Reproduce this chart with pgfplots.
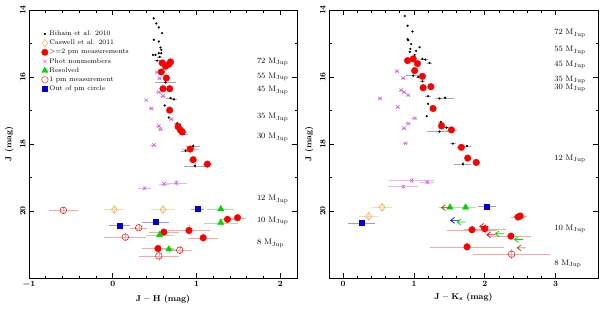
\documentclass[border=0pt]{standalone}
\usepackage{pgfplots}
\pgfplotsset{compat=1.18}
\definecolor{myred}{RGB}{250,0,0}
\definecolor{mymag}{RGB}{215,70,225}
\definecolor{mygreen}{RGB}{0,215,0}
\definecolor{myblue}{RGB}{0,0,215}
\definecolor{myorange}{RGB}{250,160,60}
\definecolor{mybrown}{RGB}{150,80,20}
\pgfdeclareplotmark{larrow}{%
  \pgfpathmoveto{\pgfpoint{1.1\pgfplotmarksize}{0pt}}%
  \pgfpathlineto{\pgfpoint{-1.1\pgfplotmarksize}{0pt}}%
  \pgfpathmoveto{\pgfpoint{-0.1\pgfplotmarksize}{0.75\pgfplotmarksize}}%
  \pgfpathlineto{\pgfpoint{-1.1\pgfplotmarksize}{0pt}}%
  \pgfpathlineto{\pgfpoint{-0.1\pgfplotmarksize}{-0.75\pgfplotmarksize}}%
  \pgfusepathqstroke}
\tikzset{mass/.style={anchor=west, font=\fontsize{8}{9}\selectfont, inner sep=0pt}}
\pgfplotsset{
  cmd/.style={
    scale only axis, height=268pt,
    y dir=reverse, ymin=14, ymax=22,
    ytick={14,16,18,20}, minor y tick num=1,
    minor x tick num=4,
    tick align=inside, major tick length=5pt, minor tick length=2.5pt,
    axis line style={line width=0.8pt}, every tick/.style={line width=0.6pt,black},
    ticklabel style={font=\fontsize{8.5}{9}\selectfont\boldmath},
    yticklabel style={rotate=90, anchor=south},
    label style={font=\fontsize{8.5}{9}\selectfont\bfseries},
    ylabel={J (mag)},
    clip=false,
    error bars/error mark=none,
  },
  bl/.style={only marks, mark=*, mark size=0.9pt, black, mark options={solid},
    error bars/.cd, x dir=both, x explicit, y dir=both, y explicit,
    error bar style={solid, gray!70, line width=0.4pt}},
  rf/.style={only marks, mark=*, mark size=3.3pt, myred, mark options={solid, fill=myred},
    error bars/.cd, x dir=both, x explicit, y dir=both, y explicit,
    error bar style={solid, myred!35, line width=0.4pt}},
  mg/.style={only marks, mark=x, mark size=2.5pt, mymag, mark options={solid, line width=0.5pt},
    error bars/.cd, x dir=both, x explicit, y dir=both, y explicit,
    error bar style={solid, mymag!40, line width=0.4pt}},
  gt/.style={only marks, mark=triangle*, mark size=3.6pt, mygreen, mark options={solid, fill=mygreen},
    error bars/.cd, x dir=both, x explicit, y dir=both, y explicit,
    error bar style={solid, mygreen!40, line width=0.4pt}},
  ro/.style={only marks, mark=o, mark size=3.3pt, myred, mark options={solid, line width=0.5pt},
    error bars/.cd, x dir=both, x explicit, y dir=both, y explicit,
    error bar style={solid, myred!35, line width=0.4pt}},
  od/.style={only marks, mark=diamond, mark size=3.9pt, myorange, mark options={solid, line width=0.5pt},
    error bars/.cd, x dir=both, x explicit, y dir=both, y explicit,
    error bar style={solid, myorange!40, line width=0.4pt}},
  bs/.style={only marks, mark=square*, mark size=2.5pt, myblue, mark options={solid, fill=myblue},
    error bars/.cd, x dir=both, x explicit, y dir=both, y explicit,
    error bar style={solid, myblue!40, line width=0.4pt}},
  ar/.style={only marks, mark=larrow, mark size=3.9pt},
}
\begin{document}
\begin{tikzpicture}[x=1pt,y=1pt]
\path (0,0) rectangle (600,310);
% ---------------- left panel ----------------
\begin{axis}[cmd, at={(29pt,32pt)}, anchor=south west, width=268pt,
  xmin=-1, xmax=2.2, xtick={-1,0,1,2},
  xlabel={J -- H (mag)},
  legend style={at={(axis description cs:0.035,0.935)}, anchor=north west, draw=none, fill=none,
    font=\fontsize{6.8}{7}\selectfont, row sep=0.6pt, nodes={inner sep=1.2pt}},
  legend cell align=left]
\addlegendimage{only marks, mark=*, mark size=0.9pt, black}
\addlegendentry{Bihain et al. 2010}
\addlegendimage{only marks, mark=diamond, mark size=3.8pt, myorange}
\addlegendentry{Caswell et al. 2011}
\addlegendimage{only marks, mark=*, mark size=3.2pt, myred}
\addlegendentry{>=2 pm measurements}
\addlegendimage{only marks, mark=x, mark size=2.5pt, mymag}
\addlegendentry{Phot nonmembers}
\addlegendimage{only marks, mark=triangle*, mark size=3.6pt, mygreen}
\addlegendentry{Resolved}
\addlegendimage{only marks, mark=o, mark size=3.3pt, myred}
\addlegendentry{1 pm measurement}
\addlegendimage{only marks, mark=square*, mark size=2.5pt, myblue}
\addlegendentry{Out of pm circle}
\addplot[forget plot, bl] table[x=x,y=y,x error=ex,y error=ey] {
x y ex ey
0.49 14.25 0 0
0.52 14.40 0 0
0.55 14.52 0 0
0.59 14.69 0 0
0.49 14.89 0 0
0.55 14.94 0 0
0.57 15.12 0 0
0.58 15.19 0 0
0.55 15.29 0 0
0.58 15.29 0 0
0.48 15.34 0 0
0.51 15.34 0 0
0.56 15.40 0.03 0
0.53 15.51 0.04 0
0.60 15.53 0.04 0
0.63 16.16 0.13 0
0.69 16.63 0.05 0
0.73 16.67 0.04 0
0.62 16.85 0 0
0.67 17.21 0 0
0.77 17.38 0.04 0
0.79 17.56 0.04 0
0.84 17.66 0.05 0
0.85 17.70 0.05 0
0.96 18.06 0.08 0.05
0.87 18.20 0.05 0
0.98 18.65 0.13 0.08
};
\addplot[forget plot, mg] table[x=x,y=y,x error=ex,y error=ey] {
x y ex ey
0.53 15.86 0.03 0
0.56 16.04 0.03 0
0.55 16.45 0.03 0
0.60 16.57 0.03 0
0.40 16.69 0.02 0
0.46 16.94 0.03 0
0.70 17.26 0.03 0
0.55 17.46 0.03 0
0.57 17.56 0.03 0
0.49 18.03 0.04 0
0.38 19.32 0.08 0.05
0.61 19.19 0.06 0.05
0.76 19.16 0.13 0.08
};
\addplot[forget plot, rf] table[x=x,y=y,x error=ex,y error=ey] {
x y ex ey
0.59 15.58 0 0
0.63 15.68 0 0
0.67 15.62 0 0
0.69 15.55 0 0
0.58 15.85 0.03 0
0.64 16.03 0.03 0
0.60 16.35 0.03 0
0.68 16.35 0.03 0
0.68 16.99 0.03 0
0.78 17.48 0.04 0
0.81 17.59 0.04 0
0.83 17.64 0.04 0
0.925 18.15 0.1 0
0.96 18.47 0.05 0
1.13 18.60 0.05 0
1.37 20.25 0.1 0.1
1.49 20.20 0.1 0.1
0.61 20.63 0.18 0.1
0.91 20.58 0.25 0.15
1.08 20.80 0.18 0.12
0.54 21.12 0.19 0.1
};
\addplot[forget plot, od] table[x=x,y=y,x error=ex,y error=ey] {
x y ex ey
0.02 19.96 0.12 0.1
0.60 19.96 0.14 0.1
};
\addplot[forget plot, ro] table[x=x,y=y,x error=ex,y error=ey] {
x y ex ey
-0.59 19.98 0.17 0.1
0.31 20.50 0.10 0.1
0.15 20.78 0.25 0.12
0.80 21.17 0.15 0.12
0.55 21.34 0.24 0.15
};
\addplot[forget plot, bs] table[x=x,y=y,x error=ex,y error=ey] {
x y ex ey
1.01 19.94 0.08 0.05
0.08 20.43 0.12 0.05
0.51 20.33 0.16 0.06
};
\addplot[forget plot, gt] table[x=x,y=y,x error=ex,y error=ey] {
x y ex ey
1.29 19.94 0.16 0.08
1.29 20.35 0.20 0.1
0.56 20.71 0.16 0.1
0.67 21.14 0.10 0.1
};
\node[mass] at (axis cs:1.72,15.54) {72 M$_{\rm Jup}$};
\node[mass] at (axis cs:1.72,16.00) {55 M$_{\rm Jup}$};
\node[mass] at (axis cs:1.72,16.40) {45 M$_{\rm Jup}$};
\node[mass] at (axis cs:1.72,17.20) {35 M$_{\rm Jup}$};
\node[mass] at (axis cs:1.72,17.80) {30 M$_{\rm Jup}$};
\node[mass] at (axis cs:1.72,19.65) {12 M$_{\rm Jup}$};
\node[mass] at (axis cs:1.72,20.30) {10 M$_{\rm Jup}$};
\node[mass] at (axis cs:1.72,20.97) {8 M$_{\rm Jup}$};
\end{axis}
% ---------------- right panel ----------------
\begin{axis}[cmd, at={(329pt,32pt)}, anchor=south west, width=269pt,
  xmin=-0.2, xmax=3.6, xtick={0,1,2,3},
  xlabel={J -- K$_{\mathbf{s}}$ (mag)}]
\addplot[bl] table[x=x,y=y,x error=ex,y error=ey] {
x y ex ey
0.87 14.18 0 0
0.91 14.47 0 0
0.98 14.64 0 0
0.91 14.87 0 0
0.92 14.90 0 0
0.96 15.02 0 0
0.95 15.16 0 0
1.08 15.11 0 0
1.03 15.22 0 0
0.94 15.25 0 0
1.01 15.34 0 0
1.12 15.46 0.04 0
1.16 15.48 0.04 0
1.22 15.58 0.04 0
0.99 15.96 0.10 0
1.06 16.00 0.03 0
1.12 16.13 0.03 0
1.13 16.02 0.03 0
1.20 16.57 0.04 0
1.36 16.64 0.06 0
1.44 16.62 0.12 0
1.20 16.80 0 0
1.18 17.17 0 0
1.38 17.34 0.04 0
1.46 17.51 0.04 0
1.36 17.63 0.18 0
1.55 17.99 0.04 0
1.75 18.06 0.06 0
1.69 18.60 0.12 0.05
};
\addplot[mg] table[x=x,y=y,x error=ex,y error=ey] {
x y ex ey
0.76 15.83 0.03 0
0.85 16.03 0.03 0
0.82 16.39 0.03 0
0.86 16.45 0.03 0
0.92 16.54 0.03 0
0.52 16.64 0.03 0
0.77 16.89 0.03 0
1.01 17.23 0.05 0
0.92 17.39 0.04 0
0.86 17.53 0.03 0
0.88 17.98 0.04 0
0.97 19.09 0.32 0.08
1.19 19.14 0.10 0.05
0.85 19.27 0.21 0.05
};
\addplot[rf] table[x=x,y=y,x error=ex,y error=ey] {
x y ex ey
0.91 15.51 0 0
0.99 15.46 0 0
1.05 15.60 0 0
1.01 15.81 0.03 0
1.12 15.98 0.04 0
1.13 16.32 0.04 0
1.24 16.29 0.04 0
1.27 16.94 0.04 0
1.39 17.46 0.05 0
1.53 17.58 0.08 0
1.67 18.10 0.06 0
1.76 18.42 0.05 0
1.88 18.55 0.05 0
2.47 20.18 0.10 0.05
2.50 20.15 0.10 0.05
1.82 20.56 0.36 0.1
2.00 20.53 0.30 0.15
2.37 20.75 0.28 0.1
1.75 21.07 0.52 0.1
};
\addplot[od] table[x=x,y=y,x error=ex,y error=ey] {
x y ex ey
0.55 19.89 0.14 0.1
0.36 20.16 0.13 0.1
};
\addplot[bs] table[x=x,y=y,x error=ex,y error=ey] {
x y ex ey
0.26 20.36 0.19 0.05
2.03 19.87 0.13 0.05
};
\addplot[gt] table[x=x,y=y,x error=ex,y error=ey] {
x y ex ey
1.51 19.89 0.15 0.08
1.73 19.89 0.15 0.08
};
\addplot[ro] table[x=x,y=y,x error=ex,y error=ey] {
x y ex ey
2.38 21.29 0.54 0.15
};
\addplot[ar, mark options={solid, draw=mybrown, line width=0.7pt}] table {
1.45 19.90
2.52 21.10
};
\addplot[ar, mark options={solid, draw=myblue, line width=0.7pt}] table {
1.58 20.28
};
\addplot[ar, mark options={solid, draw=mygreen, line width=0.7pt}] table {
1.67 20.33
2.21 20.68
2.48 20.85
};
\addplot[ar, mark options={solid, draw=myred, line width=0.7pt}] table {
1.99 20.46
2.09 20.71
};
\node[mass] at (axis cs:2.98,14.70) {72 M$_{\rm Jup}$};
\node[mass] at (axis cs:2.98,15.20) {55 M$_{\rm Jup}$};
\node[mass] at (axis cs:2.98,15.63) {45 M$_{\rm Jup}$};
\node[mass] at (axis cs:2.98,16.08) {35 M$_{\rm Jup}$};
\node[mass] at (axis cs:2.98,16.33) {30 M$_{\rm Jup}$};
\node[mass] at (axis cs:2.98,18.45) {12 M$_{\rm Jup}$};
\node[mass] at (axis cs:2.98,20.53) {10 M$_{\rm Jup}$};
\node[mass] at (axis cs:2.98,21.57) {8 M$_{\rm Jup}$};
\end{axis}
\end{tikzpicture}
\end{document}
